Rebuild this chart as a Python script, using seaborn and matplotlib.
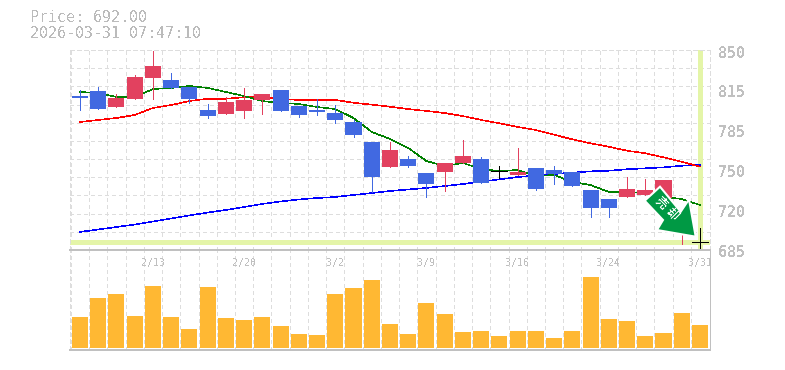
import matplotlib
matplotlib.use("Agg")
import matplotlib.pyplot as plt
from matplotlib.patches import Polygon
from matplotlib.transforms import ScaledTranslation
import numpy as np
import pandas as pd
import seaborn as sns

# Header
price_text = "Price: 692.00"
time_text = "2026-03-31 07:47:10"

# Candles, one value per session
opens = [812, 816.2, 803, 809.6, 826.9, 825.3, 819.5, 800.5, 797.2, 799.7, 808.8, 817,
         803.8, 800.5, 798, 790.6, 774.1, 753.5, 760.1, 748.5, 749.4, 756.8, 760.1, 750.2,
         746.9, 752.7, 751, 749.4, 734.5, 727.1, 728.7, 730, 728, 702, 692]
closes = [810.4, 801.3, 810.4, 827.7, 836.8, 818.7, 809.6, 795.5, 807.1, 808.8, 813.7, 799.7,
          796.4, 798.9, 792.3, 779.9, 745.2, 767.5, 754.3, 739.4, 756.8, 762.6, 740.3, 750.2,
          749.4, 735.3, 747.7, 737.8, 719.7, 719.7, 735.3, 734.5, 742.8, 714, 692]
highs = [817, 819.5, 813.7, 829.4, 849, 831, 819.5, 805.5, 811.2, 818.7, 813.7, 817,
         803.8, 809.6, 804.6, 792.3, 774.1, 774.1, 762.6, 748.5, 756.8, 775.8, 761.7, 754.3,
         769.2, 752.7, 754.3, 749.4, 734.5, 727.1, 745.2, 743.6, 742.8, 714, 703.1]
lows = [800.5, 801.3, 803, 809.6, 809.6, 818.7, 806.3, 793.9, 797.2, 793.9, 797.2, 799.7,
        794.7, 796.4, 789.8, 778.2, 732.9, 753.5, 753.5, 728.7, 733.7, 756.8, 740.3, 744.4,
        746.9, 734.5, 739.4, 737.8, 712.2, 712.2, 728.7, 730, 728, 690, 686.7]

# Moving averages
ma_short = [815.4, 814.5, 811.2, 811.2, 817.8, 818.7, 820.3, 818.7, 815.4, 812, 807.9, 806.3,
            805.5, 803, 801.3, 793.9, 782.4, 776.6, 769.2, 758.4, 754.3, 756.8, 751.8, 750.2,
            751, 746, 746.9, 741.1, 738.6, 732.9, 732.9, 732, 728.7, 727.1, 722.1]
ma_mid = [790.6, 792.3, 793.9, 796.4, 802.2, 804.6, 807.9, 809.8, 809.8, 811, 811, 809.6,
          808.8, 808.8, 808.8, 806.5, 804.9, 803.2, 801.3, 799.7, 798, 795.5, 792.3, 789.5,
          786.5, 784, 780.1, 776.3, 773, 770.2, 766.9, 764.8, 761.5, 757.8, 753.7]
ma_long = [699.9, 701.9, 704, 706, 708.5, 711, 713.5, 715.9, 718, 720.5, 723, 725,
           726.7, 727.9, 728.7, 730.4, 732, 733.7, 734.9, 736.2, 737.8, 739.4, 741.5, 743.2,
           745.2, 746.5, 747.7, 748.8, 749.9, 750.4, 751.6, 752.4, 753.2, 754.5, 755.1]

# Volume (no scale on the chart, so in arbitrary units)
volumes = [31, 50, 54, 32, 62, 31, 19, 61, 30, 28, 31, 22, 14, 13, 54, 60, 68, 24,
           14, 45, 34, 16, 17, 12, 17, 17, 10, 17, 71, 29, 27, 12, 15, 35, 23]

# Axis labels
date_pos = [4, 9, 14, 19, 24, 29, 34]
date_labels = ["2/13", "2/20", "3/2", "3/9", "3/16", "3/24", "3/31"]
price_pos = [850, 817, 784, 751, 718, 685]
price_labels = ["850", "815", "785", "750", "720", "685"]
last_price = 692

df = pd.DataFrame({"idx": range(len(opens)), "open": opens, "close": closes, "high": highs,
                   "low": lows, "vol": volumes, "ma_short": ma_short, "ma_mid": ma_mid,
                   "ma_long": ma_long})

sns.set_theme(style="white")
plt.rcParams["font.family"] = ["DejaVu Sans Mono"]
plt.rcParams["lines.antialiased"] = False
plt.rcParams["patch.antialiased"] = False
plt.rcParams["text.antialiased"] = False

UP = "#e2415f"
DOWN = "#4169e1"
GRID = "#dddddd"
EDGE = "#c0c0c0"
TEXT = "#bbbbbb"
CROSS = "#e4f5a8"
BAR_W = 0.88
PX = 0.72  # one pixel in points
DASH = (0, (3, 3))
W, H = 785, 370

fig = plt.figure(figsize=(W / 100, H / 100), dpi=100)
ax_vol = fig.add_axes([70 / W, 1 - 350 / H, 640 / W, 100 / H], facecolor="none")
ax = fig.add_axes([70 / W, 1 - 250 / H, 640 / W, 200 / H], facecolor="none", zorder=3)

x_left, x_right = -0.548, 34.55
edges = np.arange(-0.5, 34)

# Volume panel
sns.barplot(data=df, x="idx", y="vol", ax=ax_vol, color="#ffb833", saturation=1,
            width=BAR_W, native_scale=True, linewidth=0, edgecolor="none", zorder=3)
ax_vol.set_xlim(x_left, x_right)
ax_vol.set_ylim(-2, 98)
ax_vol.set_xticks([])
ax_vol.set_yticks([])
ax_vol.set_xticks(edges, minor=True)
ax_vol.tick_params(which="both", length=0, labelbottom=False)
ax_vol.grid(which="minor", axis="x", color=GRID, lw=PX, ls=DASH)
ax_vol.set_axisbelow(True)
ax_vol.set_xlabel("")
ax_vol.set_ylabel("")
ax_vol.spines["top"].set_visible(False)
ax_vol.spines["left"].set(color=GRID, lw=PX, ls=DASH)
ax_vol.spines["bottom"].set(color=EDGE, lw=1.2)
ax_vol.spines["right"].set(color=EDGE, lw=PX)

# Moving averages sit under the candles
for col, colour in [("ma_long", "#0000ff"), ("ma_mid", "#ff0000"), ("ma_short", "#008000")]:
    sns.lineplot(data=df, x="idx", y=col, ax=ax, color=colour, lw=0.4, errorbar=None,
                 legend=False, zorder=3)

# Crosshair on the last price
ax.axhline(last_price, color=CROSS, lw=2.3, zorder=2)
ax.axvline(df["idx"].iloc[-1], ymin=(686.7 - 685) / 165, color=CROSS, lw=2.3, zorder=2)

# Candles
for _, c in df.iterrows():
    if c["open"] == c["close"]:
        colour = "black"
        ax.hlines(c["open"], c["idx"] - BAR_W / 2, c["idx"] + BAR_W / 2, color=colour, lw=PX, zorder=6)
        ax.vlines(c["idx"], c["low"], c["high"], color=colour, lw=PX, zorder=6)
    else:
        colour = UP if c["close"] > c["open"] else DOWN
        ax.bar(c["idx"], abs(c["close"] - c["open"]), bottom=min(c["open"], c["close"]),
               width=BAR_W, color=colour, linewidth=0, zorder=5)
        ax.vlines(c["idx"], c["low"], c["high"], color=colour, lw=PX, zorder=4.5)

ax.set_xlim(x_left, x_right)
ax.set_ylim(685, 850)
ax.set_xticks(date_pos, date_labels)
ax.set_xticks(edges, minor=True)
ax.set_yticks(price_pos, price_labels)
ax.set_yticks(np.arange(685, 851, 15), minor=True)
ax.yaxis.tick_right()
ax.tick_params(which="both", length=0)
ax.tick_params(axis="x", which="major", labelsize=7.2, labelcolor=EDGE, pad=5.5)
ax.tick_params(axis="y", which="major", labelsize=10.8, labelcolor=EDGE, pad=6)
shift = ScaledTranslation(0, -3 / 100, fig.dpi_scale_trans)
for lab in ax.get_yticklabels():
    lab.set_verticalalignment("center")
    lab.set_fontweight("bold")
    lab.set_transform(lab.get_transform() + shift)
ax.grid(which="minor", color=GRID, lw=PX, ls=DASH)
ax.grid(which="major", visible=False)
ax.set_axisbelow(True)
ax.set_xlabel("")
ax.set_ylabel("")
for side in ["top", "left", "right"]:
    ax.spines[side].set(color=GRID, lw=PX, ls=DASH)
ax.spines["bottom"].set(color=EDGE, lw=1.2)

# Header text
fig.text(30 / W, 1 - 18 / H, price_text, color=TEXT, fontsize=10.8, va="center", ha="left")
fig.text(30 / W, 1 - 33 / H, time_text, color=TEXT, fontsize=10.8, va="center", ha="left")

# Sell arrow stamp, given in picture pixels
arrow_px = [(660, 186.7), (644.7, 200.7), (663, 220), (657, 230), (695.7, 236.7),
            (689, 199.3), (680.7, 211.7)]
arrow_fig = [(px / W, 1 - py / H) for px, py in arrow_px]
fig.add_artist(Polygon(arrow_fig, closed=True, facecolor="#009944", edgecolor="white", lw=1.5,
                       transform=fig.transFigure, zorder=10, antialiased=True))
for ch, (tx, ty) in zip("売却", [(661.5, 203), (672, 213.5)]):
    fig.text(tx / W, 1 - ty / H, ch, color="white", fontsize=8.5, rotation=-45,
             rotation_mode="anchor", ha="center", va="center", fontweight="bold",
             family=["Noto Sans CJK JP", "DejaVu Sans"], zorder=11)

plt.savefig("out.png", dpi=100)
